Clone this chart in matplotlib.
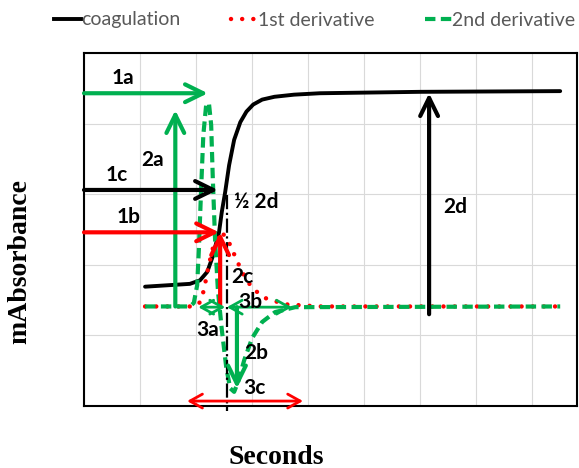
import matplotlib
matplotlib.use("Agg")
import matplotlib.pyplot as plt
from matplotlib.lines import Line2D

# values (x: seconds grid units, y: mAbsorbance grid units)
coag_x = [1.09, 1.89, 2.07, 2.20, 2.29, 2.36, 2.41, 2.46, 2.52, 2.59, 2.68, 2.79, 2.90, 3.02,
          3.18, 3.40, 3.75, 4.21, 6.00, 8.50]
coag_y = [1.69, 1.73, 1.78, 1.90, 2.10, 2.31, 2.46, 2.75, 3.03, 3.41, 3.77, 4.02, 4.17, 4.27,
          4.34, 4.38, 4.41, 4.43, 4.45, 4.46]

d1_x = [1.09, 1.98, 2.07, 2.14, 2.21, 2.29, 2.38, 2.46, 2.57, 2.68, 2.82, 3.00, 3.23, 3.59, 4.21, 8.50]
d1_y = [1.41, 1.41, 1.47, 1.64, 1.93, 2.21, 2.41, 2.46, 2.35, 2.15, 1.90, 1.67, 1.53, 1.44, 1.41, 1.41]

d2_x = [1.09, 1.89, 1.96, 2.02, 2.05, 2.09, 2.13, 2.18, 2.23, 2.27, 2.30, 2.34, 2.39, 2.46, 2.54,
        2.61, 2.68, 2.75, 2.86, 3.00, 3.18, 3.41, 3.77, 8.50]
d2_y = [1.41, 1.41, 1.46, 1.71, 2.21, 3.06, 3.84, 4.26, 4.29, 3.98, 3.20, 2.35, 1.64, 1.08, 0.54,
        0.25, 0.20, 0.34, 0.65, 0.96, 1.19, 1.33, 1.40, 1.41]

names = ["coagulation", "1st derivative", "2nd derivative"]

black = "black"
red = "#ff0000"
green = "#00b050"

fig = plt.figure(figsize=(5.79, 4.68), dpi=100)
ax = fig.add_axes([84/579, 62/468, 493/579, 353/468])

l1, = ax.plot(coag_x, coag_y, color=black, lw=2.8, solid_capstyle="round",
              solid_joinstyle="round", zorder=3)
l2, = ax.plot(d1_x, d1_y, color=red, lw=3.2, linestyle=(0, (0.01, 2.5)),
              dash_capstyle="round", zorder=4)
l3, = ax.plot(d2_x, d2_y, color=green, lw=3, linestyle=(0, (2.5, 1.3)), zorder=4)

ax.set_xlim(0, 8.8)
ax.set_ylim(0, 5)
ax.set_xticks(range(0, 9))
ax.set_yticks(range(0, 6))
ax.grid(True, color="#d9d9d9", lw=0.8)
ax.set_axisbelow(True)
ax.tick_params(left=False, bottom=False, labelleft=False, labelbottom=False)
for s in ax.spines.values():
    s.set_linewidth(1.5)
    s.set_color("black")

# vertical dash-dot guide
ax.plot([2.55, 2.55], [2.99, -0.07], color="black", lw=1.6, linestyle="-.", clip_on=False, zorder=5)

def arrow(x0, y0, x1, y1, col, lw=3, style="->,head_length=0.65,head_width=0.32"):
    ax.annotate("", xy=(x1, y1), xytext=(x0, y0),
                arrowprops=dict(arrowstyle=style, color=col, lw=lw, shrinkA=0, shrinkB=0,
                                mutation_scale=20),
                annotation_clip=False, zorder=6)

arrow(0, 4.43, 2.21, 4.43, green)
arrow(1.63, 1.41, 1.63, 4.19, green)
arrow(0, 3.06, 2.39, 3.06, black)
arrow(0, 2.46, 2.41, 2.46, red)
arrow(2.43, 1.41, 2.43, 2.46, red)
arrow(2.73, 1.40, 2.73, 0.25, green)
arrow(6.16, 1.30, 6.16, 4.43, black)
dbl = "<->,head_length=0.45,head_width=0.25"
arrow(2.04, 1.40, 2.52, 1.40, green, lw=2, style=dbl)
arrow(2.55, 1.40, 3.71, 1.40, green, lw=2, style=dbl)
arrow(1.84, 0.07, 3.91, 0.07, red, lw=2, style=dbl)

lab = dict(fontsize=15, fontweight="bold", family="Lato", ha="center", va="center", zorder=7)
ax.text(0.70, 4.65, "1a", **lab)
ax.text(1.23, 3.48, "2a", **lab)
ax.text(0.59, 3.27, "1c", **lab)
ax.text(3.07, 2.89, "½ 2d", **lab)
ax.text(0.79, 2.68, "1b", **lab)
ax.text(2.82, 1.83, "2c", **lab)
ax.text(2.20, 1.08, "3a", **lab)
ax.text(2.96, 1.47, "3b", **lab)
ax.text(3.07, 0.75, "2b", **lab)
ax.text(3.05, 0.25, "3c", **lab)
ax.text(6.63, 2.82, "2d", **lab)

fig.text(20/579, 1 - 261/468, "mAbsorbance", rotation=90, ha="center", va="center",
         fontsize=20, fontweight="bold", family="Liberation Serif")
fig.text(276/579, 1 - 457/468, "Seconds", ha="center", va="center",
         fontsize=20, fontweight="bold", family="Liberation Serif")

h1 = Line2D([], [], color=black, lw=2.8)
h2 = Line2D([], [], color=red, lw=3.2, linestyle=(0, (0.01, 2.5)), dash_capstyle="round")
h3 = Line2D([], [], color=green, lw=3, linestyle=(0, (2.5, 1.3)))
leg = fig.legend([h1, h2, h3], names, loc="center left", bbox_to_anchor=(46/579, 1 - 20/468),
                 ncol=3, frameon=False, handlelength=1.4, handletextpad=0.0,
                 columnspacing=2.6, prop={"family": "Lato", "size": 14}, borderaxespad=0)
for t in leg.get_texts():
    t.set_color("#595959")

fig.savefig("out.png", dpi=100)
